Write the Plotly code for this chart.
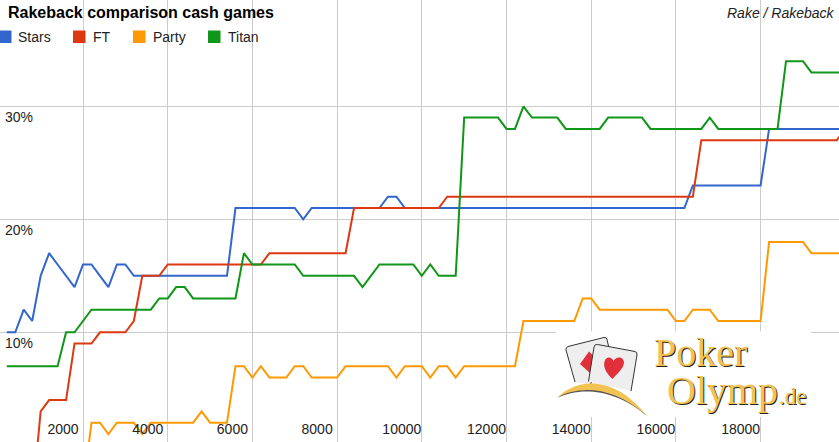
import plotly.graph_objects as go

W, H = 839, 442

hands = [200,400,600,800,1000,1200,1400,1600,1800,2000,
         2200,2400,2600,2800,3000,3200,3400,3600,3800,4000,
         4200,4400,4600,4800,5000,5200,5400,5600,5800,6000,
         6200,6400,6600,6800,7000,7200,7400,7600,7800,8000,
         8200,8400,8600,8800,9000,9200,9400,9600,9800,10000,
         10200,10400,10600,10800,11000,11200,11400,11600,11800,12000,
         12200,12400,12600,12800,13000,13200,13400,13600,13800,14000,
         14200,14400,14600,14800,15000,15200,15400,15600,15800,16000,
         16200,16400,16600,16800,17000,17200,17400,17600,17800,18000,
         18200,18400,18600,18800,19000,19200,19400,19600,19800,20000]

stars = [10,10,12,11,15,17,16,15,14,16,
         16,15,14,16,16,15,15,15,15,15,
         15,15,15,15,15,15,15,21,21,21,
         21,21,21,21,21,20,21,21,21,21,
         21,21,21,21,21,22,22,21,21,21,
         21,21,21,21,21,21,21,21,21,21,
         21,21,21,21,21,21,21,21,21,21,
         21,21,21,21,21,21,21,21,21,21,
         21,23,23,23,23,23,23,23,23,23,
         28,28,28,28,28,28,28,28,28,28]

ft = [-5,-5,-5,-5,3,4,4,4,9,9,
      9,10,10,10,10,11,15,15,15,16,
      16,16,16,16,16,16,16,16,16,16,
      16,17,17,17,17,17,17,17,17,17,
      17,21,21,21,21,21,21,21,21,21,
      21,21,22,22,22,22,22,22,22,22,
      22,22,22,22,22,22,22,22,22,22,
      22,22,22,22,22,22,22,22,22,22,
      22,22,27,27,27,27,27,27,27,27,
      27,27,27,27,27,27,27,27,27,28]

party = [-4,-4,-4,-4,-4,-4,-4,-4,-4,-4,
         2,2,1,2,2,2,1,2,2,2,
         2,2,2,3,2,2,2,7,7,6,
         7,6,6,6,7,7,6,6,6,6,
         7,7,7,7,7,7,6,7,7,7,
         6,7,7,6,7,7,7,7,7,7,
         7,11,11,11,11,11,11,11,13,13,
         12,12,12,12,12,12,12,12,12,11,
         11,12,12,12,11,11,11,11,11,11,
         18,18,18,18,18,17,17,17,17,17]

titan = [7,7,7,7,7,7,7,10,10,11,
         12,12,12,12,12,12,12,12,13,13,
         14,14,13,13,13,13,13,13,17,16,
         16,16,16,16,16,15,15,15,15,15,
         15,15,14,15,16,16,16,16,16,15,
         16,15,15,15,29,29,29,29,29,28,
         28,30,29,29,29,29,28,28,28,28,
         28,29,29,29,29,29,28,28,28,28,
         28,28,28,29,28,28,28,28,28,28,
         28,28,34,34,34,33,33,33,33,33]

series_names = ["Stars", "FT", "Party", "Titan"]
series_values = [stars, ft, party, titan]
series_colors = ["#3366CC", "#DC3912", "#FF9900", "#109618"]

x_ticks = [2000, 4000, 6000, 8000, 10000, 12000, 14000, 16000, 18000]
x_tick_labels = ["2000", "4000", "6000", "8000", "10000", "12000", "14000", "16000", "18000"]
y_ticks = [10, 20, 30]
y_tick_labels = ["10%", "20%", "30%"]

TEXT = "#222222"
GRID = "#CCCCCC"
GOLD = "#F2C252"


def px(x):
    return x / W


def py(y):
    return 1 - y / H


def text(x, y, s, size, color=TEXT, anchor="left", family="Liberation Sans", shadow=None):
    font = dict(family=family, size=size, color=color)
    if shadow:
        font["shadow"] = shadow
    return dict(xref="paper", yref="paper", x=px(x), y=py(y), text=s, showarrow=False,
                xanchor=anchor, yanchor="middle", font=font, borderpad=0, borderwidth=0)


def path(d, fill=None, line=None, width=0):
    return dict(type="path", xref="paper", yref="paper", layer="above", path=d,
                fillcolor=fill if fill else "rgba(0,0,0,0)",
                line=dict(color=line if line else "rgba(0,0,0,0)", width=width))


def svg(cmds):
    out = []
    for c, nums in cmds:
        if c == "Z":
            out.append("Z")
            continue
        conv = []
        for i in range(0, len(nums), 2):
            conv.append(f"{px(nums[i]):.5f},{py(nums[i + 1]):.5f}")
        out.append(c + " " + " ".join(conv))
    return " ".join(out)


fig = go.Figure()
for name, values, color in zip(series_names, series_values, series_colors):
    fig.add_trace(go.Scatter(x=hands, y=values, name=name, mode="lines",
                             line=dict(color=color, width=2), showlegend=False,
                             hoverinfo="skip"))

shapes = []
# Logo backdrop hides the grid behind it
shapes.append(dict(type="rect", xref="paper", yref="paper", layer="above",
                   x0=px(556), x1=px(811), y0=py(417), y1=py(331.6),
                   fillcolor="white", line=dict(width=0)))
# back card
shapes.append(path(svg([("M", [575, 382]), ("L", [566, 350]), ("Q", [565.5, 347.5, 568, 346.5]),
                        ("L", [604, 337.5]), ("Q", [606.5, 337, 607, 339.5]), ("L", [609, 348]),
                        ("L", [590, 385])]),
                   fill="#EEEEEE", line="#333333", width=1))
# diamond on the back card
shapes.append(path(svg([("M", [589, 351.5]), ("L", [580, 364]), ("L", [591, 374]), ("L", [598, 360]), ("Z", [])]),
                   fill="#E0303A"))
# front card
shapes.append(path(svg([("M", [588.5, 381.5]), ("L", [594, 347]), ("Q", [594.5, 344, 597.5, 344.5]),
                        ("L", [635, 351.5]), ("Q", [637.5, 352, 637, 355]), ("L", [631, 391])]),
                   fill="#EEEEEE", line="#333333", width=1))
# heart
shapes.append(path(svg([("M", [612.5, 379]),
                        ("C", [606, 373, 603, 367, 604.5, 361.5]),
                        ("C", [606, 356, 612, 356.5, 613.5, 361]),
                        ("C", [616, 355.5, 624, 356.5, 624, 362.5]),
                        ("C", [624, 368, 617, 374, 612.5, 379]), ("Z", [])]),
                   fill="#E0303A"))
# hat-brim arc: shadow then gold crescent
shapes.append(path(svg([("M", [557.5, 398]), ("C", [575, 382.6, 612, 375, 647, 416]),
                        ("C", [612, 386.6, 578, 388, 557.5, 398]), ("Z", [])]),
                   fill="#555555"))
shapes.append(path(svg([("M", [557.5, 397.3]), ("C", [575, 380, 612, 372, 646.7, 415.7]),
                        ("C", [612, 384.5, 578, 386, 557.5, 397.3]), ("Z", [])]),
                   fill=GOLD))
# legend swatches
for x0, color in zip([-1, 73, 133, 208], series_colors):
    shapes.append(dict(type="rect", xref="paper", yref="paper", layer="above",
                       x0=px(x0), x1=px(x0 + 12.5), y0=py(43), y1=py(30.5),
                       fillcolor=color, line=dict(width=0)))

annotations = [
    text(8, 12.5, "<b>Rakeback comparison cash games</b>", 16, color="#000000"),
    text(835, 13, "<i>Rake / Rakeback</i>", 14, anchor="right"),
]
for x0, name in zip([17.5, 92.5, 152.5, 227.5], series_names):
    annotations.append(text(x0, 36.5, name, 14))

# Logo wordmark
SHADOW = "1px 1px 0px #222222"
annotations.append(text(654, 352, "Poker", 40, color=GOLD, family="Liberation Serif", shadow=SHADOW))
annotations.append(text(667, 390, "Olymp", 40, color=GOLD, family="Liberation Serif", shadow=SHADOW))
annotations.append(text(779, 396, ".de", 23, color=GOLD, family="Liberation Serif", shadow=SHADOW))

fig.update_layout(
    width=W, height=H,
    margin=dict(l=0, r=0, t=0, b=0, pad=0),
    paper_bgcolor="white", plot_bgcolor="white",
    showlegend=False,
    shapes=shapes, annotations=annotations,
    xaxis=dict(range=[40, 19851], tickvals=x_ticks, ticktext=x_tick_labels, ticks="",
               showline=False, zeroline=False,
               showgrid=True, gridcolor=GRID, gridwidth=1,
               ticklabelposition="inside", ticklabelshift=-20, ticklabelstandoff=2,
               tickfont=dict(family="Liberation Sans", size=14, color=TEXT)),
    yaxis=dict(range=[0.29, 39.41], tickvals=y_ticks, ticktext=y_tick_labels, ticks="",
               showline=False, zeroline=False, showgrid=True, gridcolor=GRID, gridwidth=1,
               ticklabelposition="inside", ticklabelshift=11, ticklabelstandoff=2,
               tickfont=dict(family="Liberation Sans", size=14, color=TEXT)),
)

fig.write_html("out.html", config={"displayModeBar": False},
               post_script="document.body.style.margin='0';document.body.style.overflow='hidden';")
